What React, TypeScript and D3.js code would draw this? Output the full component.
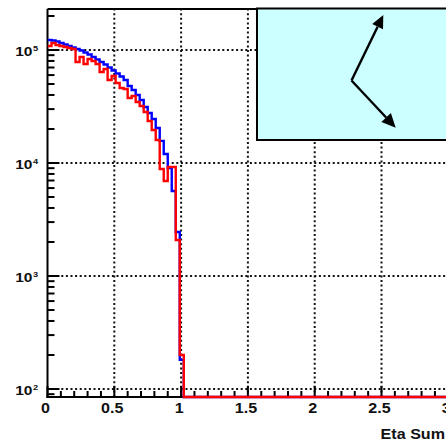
import React, { useEffect, useRef } from "react";
import * as d3 from "d3";

// Histogram binning: 100 bins of 0.03 over [0, 3]; bins past the listed ones are empty.
const binWidth = 0.03;
const nBins = 100;

// Bin contents (first 34 bins) for the two samples
const blueCounts = [
  122600, 121400, 118900, 115300, 111900, 108500, 105200, 102000, 99000, 95000,
  91300, 86700, 82400, 78300, 74400, 70000, 65900, 61900, 58300, 54300,
  48000, 44300, 40000, 36100, 31300, 27700, 24500, 20400, 15700, 12000,
  9030, 5650, 2450, 181,
];
const redCounts = [
  108500, 115300, 110700, 108500, 106300, 104200, 102000, 78300, 86700, 75200,
  83300, 79900, 75200, 63900, 67900, 54300, 58900, 51100, 46100, 45200,
  37600, 39200, 34700, 31900, 28300, 23500, 19600, 16000, 8850, 6930,
  9220, 9220, 2080, 200,
];

const xTicks = [0, 0.5, 1, 1.5, 2, 2.5, 3];
const xTickLabels = ["0", "0.5", "1", "1.5", "2", "2.5", "3"];
const yDecades = [2, 3, 4, 5];
const xTitle = "Eta Sum";

const W = 446;
const H = 441;
const FONT = "'Liberation Sans', Arial, Helvetica, sans-serif";

export default function App() {
  const ref = useRef<SVGSVGElement | null>(null);

  useEffect(() => {
    const svg = d3.select(ref.current);
    svg.selectAll("*").remove();

    const left = 47.5;
    const bottom = 397;
    const top = 9;
    const x = d3.scaleLinear().domain([0, 3]).range([left, 448.3]);
    const yMin = Math.pow(10, 2 - 8 / 113);
    const yMax = Math.pow(10, 5 + 41 / 113);
    const y = d3.scaleLog().domain([yMin, yMax]).range([bottom, top]);

    svg.append("rect").attr("width", W).attr("height", H).attr("fill", "white");

    const defs = svg.append("defs");
    defs
      .append("clipPath")
      .attr("id", "plotClip")
      .append("rect")
      .attr("x", left)
      .attr("y", top)
      .attr("width", W - left)
      .attr("height", bottom - top + 2);

    // dotted grid
    const grid = svg
      .append("g")
      .attr("stroke", "#111")
      .attr("stroke-width", 2)
      .attr("stroke-dasharray", "2,2.6");
    xTicks.slice(1).forEach((t) => {
      grid.append("line").attr("x1", x(t)).attr("x2", x(t)).attr("y1", bottom).attr("y2", top);
    });
    yDecades.forEach((d) => {
      const yy = y(Math.pow(10, d));
      grid.append("line").attr("x1", left).attr("x2", W).attr("y1", yy).attr("y2", yy);
    });

    // frame / axes
    const ax = svg.append("g").attr("stroke", "black").attr("stroke-width", 2);
    ax.append("line").attr("x1", left).attr("x2", left).attr("y1", top).attr("y2", bottom + 1);
    ax.append("line").attr("x1", left).attr("x2", W).attr("y1", top).attr("y2", top);
    ax.append("line").attr("x1", left - 1).attr("x2", W).attr("y1", bottom).attr("y2", bottom);

    // x ticks: major every 0.5, minor every 0.1
    const tg = svg.append("g").attr("stroke", "black").attr("stroke-width", 2);
    for (let k = 0; k <= 30; k++) {
      const t = k / 10;
      const major = k % 5 === 0;
      tg.append("line")
        .attr("x1", x(t))
        .attr("x2", x(t))
        .attr("y1", bottom)
        .attr("y2", bottom - (major ? 11 : 6));
    }
    // y ticks: decades + 2..9 subdivisions
    for (let d = 1; d <= 5; d++) {
      for (let m = 1; m <= 9; m++) {
        const v = m * Math.pow(10, d);
        if (v < yMin || v > yMax) continue;
        const yy = y(v);
        tg.append("line")
          .attr("x1", left)
          .attr("x2", left + (m === 1 ? 12 : 7))
          .attr("y1", yy)
          .attr("y2", yy);
      }
    }

    // histogram outlines (drawn over the axis so the empty bins show along the bottom)
    const buildPoints = (counts: number[]) => {
      const pts: [number, number][] = [];
      for (let i = 0; i < nBins; i++) {
        const v = i < counts.length ? counts[i] : 0;
        pts.push([i * binWidth, Math.max(v, yMin)]);
      }
      pts.push([nBins * binWidth, pts[pts.length - 1][1]]);
      return pts;
    };
    const line = d3
      .line<[number, number]>()
      .x((d) => x(d[0]))
      .y((d) => y(d[1]))
      .curve(d3.curveStepAfter);

    const hg = svg
      .append("g")
      .attr("clip-path", "url(#plotClip)")
      .attr("fill", "none")
      .attr("stroke-width", 2.4);
    hg.append("path").attr("d", line(buildPoints(blueCounts))).attr("stroke", "#0000ff");
    hg.append("path").attr("d", line(buildPoints(redCounts))).attr("stroke", "#ff0000");

    // x labels
    const sx = 1.15;
    xTicks.forEach((t, i) => {
      const px = x(t) - 2;
      svg
        .append("text")
        .attr("transform", `translate(${px},413) scale(${sx},1)`)
        .attr("text-anchor", "middle")
        .attr("font-family", FONT)
        .attr("font-weight", "bold")
        .attr("font-size", 14)
        .attr("fill", "#111")
        .text(xTickLabels[i]);
    });

    // y labels 10^n
    yDecades.forEach((d) => {
      const yy = y(Math.pow(10, d));
      svg
        .append("text")
        .attr("transform", `translate(32.5,${yy + 6}) scale(${sx},1)`)
        .attr("text-anchor", "end")
        .attr("font-family", FONT)
        .attr("font-weight", "bold")
        .attr("font-size", 13.5)
        .attr("fill", "#111")
        .text("10");
      svg
        .append("text")
        .attr("transform", `translate(33,${yy + 0.5}) scale(${sx},1)`)
        .attr("font-family", FONT)
        .attr("font-weight", "bold")
        .attr("font-size", 8)
        .attr("fill", "#111")
        .text(String(d));
    });

    // x title
    svg
      .append("text")
      .attr("transform", `translate(445,439) scale(${sx},1)`)
      .attr("text-anchor", "end")
      .attr("font-family", FONT)
      .attr("font-weight", "bold")
      .attr("font-size", 14)
      .attr("fill", "#111")
      .text(xTitle);

    // legend box
    const lx = 257;
    const ly = 8.5;
    svg
      .append("rect")
      .attr("x", lx)
      .attr("y", ly)
      .attr("width", 200)
      .attr("height", 131.5)
      .attr("fill", "#ccffff")
      .attr("stroke", "black")
      .attr("stroke-width", 2);

    // two arrows from a common origin inside the box
    const origin: [number, number] = [lx + 94.5, ly + 72];
    const arrow = (tip: [number, number], headLen: number, headHalf: number) => {
      const dx = tip[0] - origin[0];
      const dy = tip[1] - origin[1];
      const len = Math.hypot(dx, dy);
      const ux = dx / len;
      const uy = dy / len;
      const bx = tip[0] - ux * headLen;
      const by = tip[1] - uy * headLen;
      svg
        .append("line")
        .attr("x1", origin[0])
        .attr("y1", origin[1])
        .attr("x2", bx)
        .attr("y2", by)
        .attr("stroke", "black")
        .attr("stroke-width", 2.4);
      svg
        .append("polygon")
        .attr(
          "points",
          [
            [tip[0], tip[1]],
            [bx - uy * headHalf, by + ux * headHalf],
            [bx + uy * headHalf, by - ux * headHalf],
          ]
            .map((p) => p.join(","))
            .join(" ")
        )
        .attr("fill", "black");
    };
    arrow([lx + 126.3, ly + 6.5], 13, 6);
    arrow([lx + 138.7, ly + 119.2], 14, 6.5);
  }, []);

  return (
    <svg
      ref={ref}
      width={W}
      height={H}
      style={{ position: "fixed", left: 0, top: 0, display: "block" }}
    />
  );
}
